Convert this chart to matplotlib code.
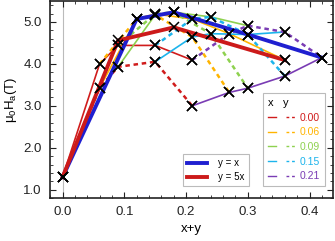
import matplotlib
matplotlib.use("Agg")
import matplotlib.pyplot as plt
import matplotlib.ticker as ticker
from matplotlib.lines import Line2D
from matplotlib.legend_handler import HandlerTuple

plt.rcParams["font.family"] = ["Liberation Sans", "DejaVu Sans"]
plt.rcParams["mathtext.fontset"] = "custom"
plt.rcParams["mathtext.rm"] = "Liberation Sans"
plt.rcParams["mathtext.it"] = "Liberation Sans"

# composition grid: x (solid lines) and y (dashed lines)
GROUP_LABELS = ["0.00", "0.06", "0.09", "0.15", "0.21"]
COLORS = ["#d01c1c", "#ffb400", "#8ed14f", "#1cb4ec", "#7a3cb4"]

# constant x (solid), values of x+y and mu0Ha (T)
solid_s = [
    [0.00, 0.06, 0.09, 0.15, 0.21],
    [0.06, 0.12, 0.15, 0.21, 0.27, 0.36],
    [0.09, 0.15, 0.18, 0.24, 0.30],
    [0.15, 0.21, 0.24, 0.30, 0.36],
    [0.21, 0.27, 0.30, 0.36, 0.42],
]
solid_h = [
    [1.30, 4.00, 4.44, 4.44, 4.09],
    [3.43, 5.07, 5.19, 5.07, 4.72, 4.09],
    [3.93, 5.17, 5.23, 5.12, 4.91],
    [4.05, 4.64, 4.72, 4.70, 4.76],
    [3.00, 3.32, 3.42, 3.71, 4.15],
]

# constant y (dashed)
dash_s = [
    [0.00, 0.06, 0.09, 0.15, 0.21],
    [0.06, 0.12, 0.15, 0.21, 0.27],
    [0.09, 0.15, 0.18, 0.24, 0.30],
    [0.15, 0.21, 0.24, 0.30, 0.36],
    [0.21, 0.27, 0.30, 0.36, 0.42],
]
dash_h = [
    [1.30, 3.43, 3.93, 4.05, 3.00],
    [4.00, 5.07, 5.17, 4.64, 3.32],
    [4.44, 5.19, 5.23, 4.72, 3.42],
    [4.44, 5.07, 5.12, 4.70, 3.71],
    [4.09, 4.72, 4.91, 4.76, 4.15],
]

# y = x and y = 5x
yx_s = [0.00, 0.12, 0.18, 0.30, 0.42]
yx_h = [1.30, 5.07, 5.23, 4.70, 4.15]
y5x_s = [0.00, 0.09, 0.18, 0.36]
y5x_h = [1.30, 4.56, 4.87, 4.09]

fig = plt.figure(figsize=(3.35, 2.41), dpi=100)
ax = fig.add_axes([0.149, 0.178, 0.845, 0.818])

ax.axvline(0, color="#bbbbbb", linewidth=0.8, zorder=0)

for s, h, c in zip(solid_s, solid_h, COLORS):
    ax.plot(s, h, color=c, linewidth=1.2, zorder=2)
for s, h, c in zip(dash_s, dash_h, COLORS):
    ax.plot(s, h, color=c, linewidth=1.8, linestyle=(0, (1.8, 1.5)), zorder=2)

ax.plot(yx_s, yx_h, color="#1f1fd0", linewidth=2.8, zorder=3, label="y = x")
ax.plot(y5x_s, y5x_h, color="#cc1a1a", linewidth=2.8, zorder=4, label="y = 5x")

# black crosses on every composition
for s, h in zip(solid_s + dash_s + [yx_s, y5x_s], solid_h + dash_h + [yx_h, y5x_h]):
    ax.plot(s, h, linestyle="none", marker="x", color="black",
            markersize=7, markeredgewidth=1.1, zorder=5)

ax.set_xlim(-0.0205, 0.438)
ax.set_ylim(0.8, 5.5)
ax.xaxis.set_major_locator(ticker.MultipleLocator(0.1))
ax.xaxis.set_minor_locator(ticker.MultipleLocator(0.02))
ax.yaxis.set_major_locator(ticker.MultipleLocator(1.0))
ax.yaxis.set_minor_locator(ticker.MultipleLocator(0.2))
ax.xaxis.set_major_formatter(ticker.FormatStrFormatter("%.1f"))
ax.yaxis.set_major_formatter(ticker.FormatStrFormatter("%.1f"))
ax.tick_params(which="both", direction="in", top=True, right=True,
               labelsize=9.5, colors="#222222", pad=6)
ax.tick_params(which="major", length=4, width=0.8)
ax.tick_params(which="minor", length=2, width=0.6)
for spine in ax.spines.values():
    spine.set_linewidth(1.2)
    spine.set_color("#222222")

ax.set_xlabel("x+y", fontsize=9.5, labelpad=3)
ax.set_ylabel(r"$\mathregular{\mu_0H_a}$(T)", fontsize=9.5, labelpad=3)

leg1 = ax.legend(loc="lower left", bbox_to_anchor=(0.452, 0.035),
                 fontsize=7, handlelength=2.0, handletextpad=1.2,
                 frameon=True, fancybox=False, edgecolor="#bbbbbb",
                 framealpha=1, borderpad=0.45, labelspacing=0.4)
leg1.get_frame().set_linewidth(0.8)
ax.add_artist(leg1)

handles = []
for c in COLORS:
    solid = Line2D([], [], color=c, linewidth=1.0)
    dashed = Line2D([], [], color=c, linewidth=1.0, linestyle=(0, (2.0, 2.0)))
    handles.append((solid, dashed))
leg2 = ax.legend(handles, GROUP_LABELS, loc="lower right",
                 bbox_to_anchor=(0.99, 0.035), fontsize=7.5,
                 title="x   y", title_fontsize=8, alignment="left",
                 handler_map={tuple: HandlerTuple(ndivide=None, pad=0.9)},
                 handlelength=2.6, handletextpad=0.5, labelspacing=0.45,
                 frameon=True, fancybox=False, edgecolor="#bbbbbb",
                 framealpha=1, borderpad=0.45)
leg2.get_frame().set_linewidth(0.8)
for t, c in zip(leg2.get_texts(), COLORS):
    t.set_color(c)

fig.savefig("out.png", dpi=100, facecolor="white")
